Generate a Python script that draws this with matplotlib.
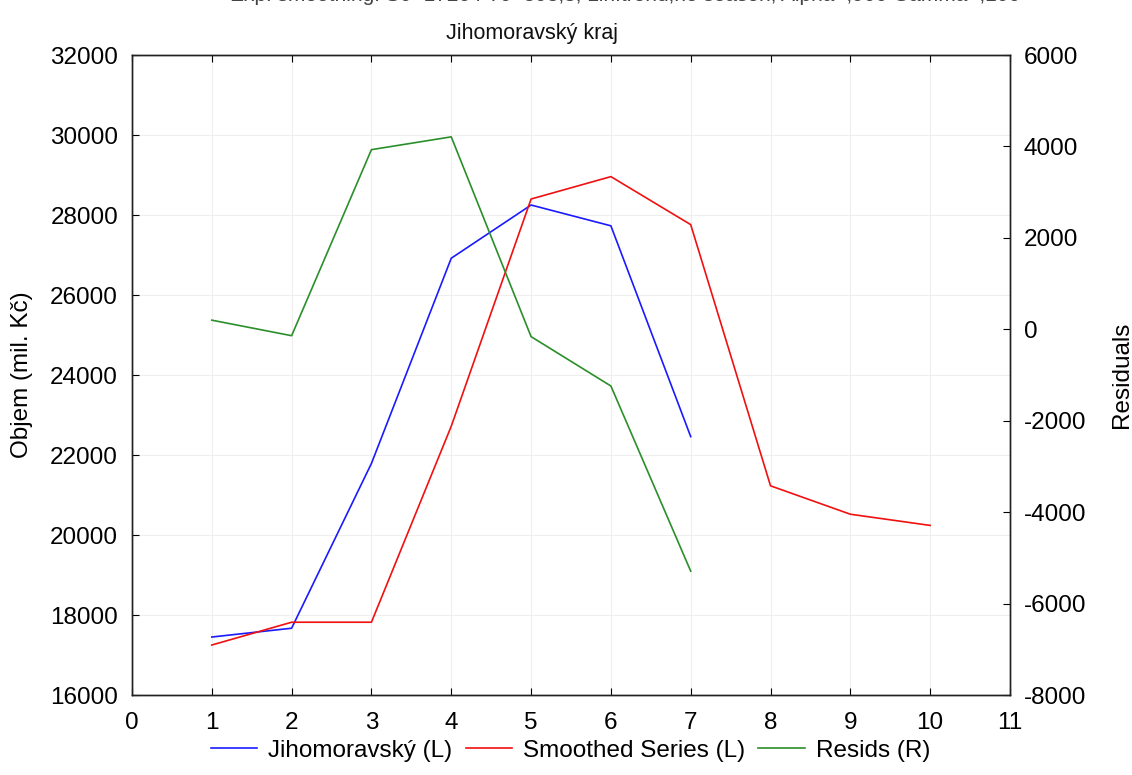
import numpy as np
import matplotlib
matplotlib.use("Agg")
import matplotlib.pyplot as plt

plt.rcParams['font.family'] = ['Liberation Sans', 'DejaVu Sans']
plt.rcParams['axes.unicode_minus'] = False

# period index and series (mil. Kč)
period = [1, 2, 3, 4, 5, 6, 7, 8, 9, 10]
jihomoravsky = [17450, 17670, 21790, 26920, 28250, 27730, 22460]
smoothed = [17250, 17820, 17820, 22720, 28400, 28960, 27760, 21230, 20520, 20240]
resids = [200, -140, 3930, 4210, -160, -1240, -5290]

title_top = "Exp. smoothing: S0=17264 T0=593,8; Lin.trend,no season; Alpha=,900 Gamma=,100"
title = "Jihomoravský kraj"

fs = 17.5

fig = plt.figure(figsize=(11.32, 7.75), dpi=100)
ax = fig.add_axes([0.1166, 0.1032, 0.7756, 0.8258])
ax2 = ax.twinx()

h1, = ax.plot(period[:len(jihomoravsky)], jihomoravsky, color='#1a1aff', lw=1.2,
              label='Jihomoravský (L)')
h2, = ax.plot(period, smoothed, color='#f01010', lw=1.2, label='Smoothed Series (L)')
h3, = ax2.plot(period[:len(resids)], resids, color='#2a8f2a', lw=1.2, label='Resids (R)')

ax.set_xlim(0, 11)
ax.set_ylim(16000, 32000)
ax.set_xticks(range(0, 12))
ax.set_yticks(range(16000, 32001, 2000))
ax2.set_ylim(-8000, 6000)
ax2.set_yticks(range(-8000, 6001, 2000))

ax.grid(True, color='#eeeeee', lw=0.8)
ax.set_axisbelow(True)

ax.tick_params(axis='both', direction='in', length=5, width=0.8, labelsize=fs, top=True, pad=10)
ax.tick_params(axis='x', pad=12)
ax2.tick_params(axis='y', direction='in', length=5, width=0.8, labelsize=fs, pad=10)

for a in (ax, ax2):
    for s in a.spines.values():
        s.set_linewidth(1.0)
        s.set_color('#222222')

ax.set_ylabel('Objem (mil. Kč)', fontsize=fs, labelpad=12)
ax2.set_ylabel('Residuals', fontsize=fs, labelpad=18)

# first heading line sits mostly above the top edge
fig.text(0.552, 0.9985, title_top, fontsize=15, ha='center', va='baseline', color='#444444')
fig.text(0.47, 0.957, title, fontsize=15.5, ha='center', va='center', color='#111111')

fig.legend(handles=[h1, h2, h3], loc='center', bbox_to_anchor=(0.504, 0.031), ncol=3,
           frameon=False, fontsize=fs, handlelength=1.9, columnspacing=0.55, handletextpad=0.45)

fig.savefig('out.png', dpi=100)
